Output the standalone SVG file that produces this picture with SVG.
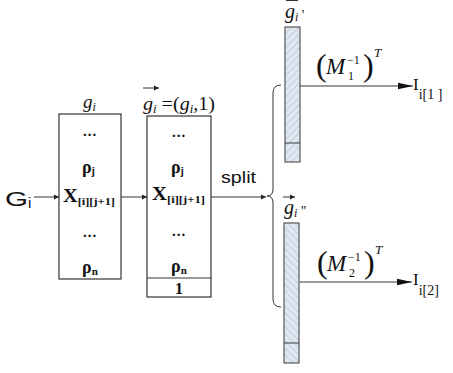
<svg xmlns="http://www.w3.org/2000/svg" width="453" height="373" viewBox="0 0 453 373">
<style>
.box{fill:#fff;stroke:#333;stroke-width:1.2}
.bar{stroke:#555;stroke-width:1.2}
.ln{stroke:#333;stroke-width:1;fill:none}
.ser{font-family:"Liberation Serif","Times New Roman",serif;fill:#111}
.it{font-style:italic}
.b{font-weight:bold}
.sans{font-family:"Liberation Sans",Arial,sans-serif;fill:#111}
</style>
<defs>
<marker id="sm" markerWidth="6" markerHeight="6" refX="5" refY="3" orient="auto" markerUnits="userSpaceOnUse"><path d="M0,0.5 L5,3 L0,5.5 Z" fill="#222"/></marker>
<marker id="lg" markerWidth="16" markerHeight="8" refX="15" refY="4" orient="auto" markerUnits="userSpaceOnUse"><path d="M0,0.8 L15,4 L0,7.2 Z" fill="#111"/></marker>
<pattern id="h1" width="5" height="5" patternUnits="userSpaceOnUse" patternTransform="rotate(45)"><rect width="5" height="5" fill="#dfe7f3"/><line x1="0" y1="0" x2="0" y2="5" stroke="#a6aebb" stroke-width="0.9"/></pattern>
<pattern id="h2" width="5" height="5" patternUnits="userSpaceOnUse" patternTransform="rotate(-45)"><rect width="5" height="5" fill="#dfe7f3"/><line x1="0" y1="0" x2="0" y2="5" stroke="#a6aebb" stroke-width="0.9"/></pattern>
</defs>

<g id="Gi">
<text class="sans" x="5" y="206" font-size="21" textLength="23" lengthAdjust="spacingAndGlyphs">G</text>
<text class="sans" x="28" y="208" font-size="15">i</text>
</g>

<g id="box1">
<rect class="box" x="59" y="114" width="62" height="165"/>
<text class="ser it" x="83" y="108" font-size="19">g<tspan font-size="12" dy="3">i</tspan></text>
<text class="ser b" x="90" y="136" font-size="15" text-anchor="middle" letter-spacing="1">...</text>
<text class="ser b" x="82" y="173" font-size="18">ρ<tspan class="sans" font-size="11" dy="2">j</tspan></text>
<text class="ser b" x="63" y="202" font-size="18" textLength="52" lengthAdjust="spacingAndGlyphs">X<tspan font-size="11" dy="3">[i][j+1]</tspan></text>
<text class="ser b" x="90" y="237" font-size="15" text-anchor="middle" letter-spacing="1">...</text>
<text class="ser b" x="82" y="273" font-size="18">ρ<tspan font-size="11" dy="2">n</tspan></text>
</g>

<g id="box2">
<rect class="box" x="147" y="116" width="64" height="181"/>
<line class="ln" x1="147" y1="278" x2="211" y2="278"/>
<line class="ln" x1="143" y1="88" x2="159" y2="88" marker-end="url(#sm)"/>
<text class="ser it" x="143" y="110" font-size="19" textLength="72" lengthAdjust="spacingAndGlyphs">g<tspan font-size="12" dy="3">i</tspan><tspan dy="-3" font-style="normal"> =(</tspan>g<tspan font-size="12" dy="3">i</tspan><tspan dy="-3" font-style="normal">,1)</tspan></text>
<text class="ser b" x="179" y="137" font-size="15" text-anchor="middle" letter-spacing="1">...</text>
<text class="ser b" x="171" y="173" font-size="18">ρ<tspan class="sans" font-size="11" dy="2">j</tspan></text>
<text class="ser b" x="152" y="200" font-size="18" textLength="53" lengthAdjust="spacingAndGlyphs">X<tspan font-size="11" dy="3">[i][j+1]</tspan></text>
<text class="ser b" x="179" y="236" font-size="15" text-anchor="middle" letter-spacing="1">...</text>
<text class="ser b" x="171" y="272" font-size="18">ρ<tspan font-size="11" dy="2">n</tspan></text>
<text class="ser b" x="179" y="294" font-size="16" text-anchor="middle">1</text>
</g>

<g id="bar1">
<rect class="bar" x="285" y="27" width="15" height="135" fill="url(#h1)"/>
<line class="bar" x1="285" y1="143" x2="300" y2="143"/>
<line class="ln" x1="286" y1="0.5" x2="298" y2="0.5"/>
<text class="ser it" x="285" y="18" font-size="20">g<tspan font-size="12" dy="3">i</tspan><tspan font-style="normal" font-size="14" dy="-1"> '</tspan></text>
</g>

<g id="bar2">
<rect class="bar" x="284" y="223" width="15" height="140" fill="url(#h2)"/>
<line class="bar" x1="284" y1="343" x2="299" y2="343"/>
<line class="ln" x1="283" y1="197" x2="295" y2="197" marker-end="url(#sm)"/>
<text class="ser it" x="284" y="214" font-size="20">g<tspan font-size="12" dy="3">i</tspan><tspan font-style="normal" font-size="14" dy="-1"> "</tspan></text>
</g>

<g id="out1">
<text class="ser" x="413" y="90" font-size="17">I<tspan font-size="14" dy="9">i[1 ]</tspan></text>
</g>
<g id="out2">
<text class="ser" x="413" y="285" font-size="17">I<tspan font-size="14" dy="10">i[2]</tspan></text>
</g>

<g id="connectors">
<line class="ln" x1="34" y1="197" x2="59" y2="197" marker-end="url(#sm)"/>
<line class="ln" x1="121" y1="197" x2="147" y2="197" marker-end="url(#sm)"/>
<line class="ln" x1="211" y1="197" x2="266" y2="197" marker-end="url(#sm)"/>
<text class="sans" x="221" y="183" font-size="17" textLength="35" lengthAdjust="spacingAndGlyphs">split</text>
<path class="ln" d="M281,85 Q273,85 273,93 L273,189 Q273,196 267,196 Q273,196 273,203 L273,299 Q273,307 281,307"/>
<line class="ln" x1="300" y1="86" x2="413" y2="86" marker-end="url(#lg)"/>
<line class="ln" x1="300" y1="282" x2="412" y2="282" marker-end="url(#lg)"/>
<g id="lab1">
<text class="ser" x="316" y="76" font-size="32">(</text>
<text class="ser it" x="326" y="74" font-size="23">M</text>
<text class="ser" x="347" y="64" font-size="12">−1</text>
<text class="ser" x="348" y="80" font-size="12">1</text>
<text class="ser" x="363" y="76" font-size="32">)</text>
<text class="ser it" x="374" y="57" font-size="13">T</text>
</g>
<g id="lab2">
<text class="ser" x="317" y="273" font-size="32">(</text>
<text class="ser it" x="327" y="271" font-size="23">M</text>
<text class="ser" x="348" y="261" font-size="12">−1</text>
<text class="ser" x="349" y="277" font-size="12">2</text>
<text class="ser" x="364" y="273" font-size="32">)</text>
<text class="ser it" x="375" y="254" font-size="13">T</text>
</g>
</g>
</svg>
